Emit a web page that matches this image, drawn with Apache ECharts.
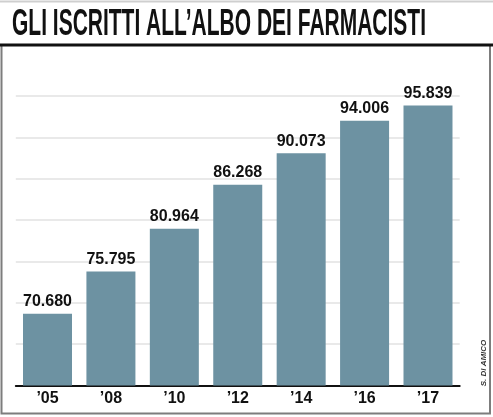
<!DOCTYPE html>
<html>
<head>
<meta charset="utf-8">
<script src="https://cdn.jsdelivr.net/npm/echarts@6/dist/echarts.min.js"></script>
<style>
html,body{margin:0;padding:0;background:#fff;}
#chart{width:493px;height:417px;}
</style>
</head>
<body>
<div id="chart"></div>
<script>
const titleText = 'GLI ISCRITTI ALL\u2019ALBO DEI FARMACISTI';
const creditText = 'S. DI AMICO';
const categories = ['\u201905', '\u201908', '\u201910', '\u201912', '\u201914', '\u201916', '\u201917'];
const iscritti = [70680, 75795, 80964, 86268, 90073, 94006, 95839];

function fmt(v) {
  return String(v).replace(/\B(?=(\d{3})+(?!\d))/g, '.');
}

const titleFont = 'bold 36px "Liberation Sans Narrow", "Liberation Sans", Arial, sans-serif';
const ctx = document.createElement('canvas').getContext('2d');
ctx.font = titleFont;
const titleW = ctx.measureText(titleText).width;
const titleScaleX = 414 / titleW;

const chart = echarts.init(document.getElementById('chart'), null, {renderer: 'canvas'});
chart.setOption({
  animation: false,
  backgroundColor: '#ffffff',
  grid: {left: 15.8, right: 33.3, top: 96, height: 289.5},
  xAxis: {
    type: 'category',
    data: categories,
    axisLine: {show: true, lineStyle: {color: '#111', width: 2}},
    axisTick: {show: false},
    axisLabel: {
      margin: 5,
      color: '#111',
      fontSize: 16,
      fontWeight: 'bold',
      fontFamily: '"Liberation Sans", Arial, sans-serif'
    }
  },
  yAxis: {
    type: 'value',
    min: 62000,
    max: 97000,
    interval: 5000,
    axisLine: {show: false},
    axisTick: {show: false},
    axisLabel: {show: false},
    splitLine: {show: true, lineStyle: {color: '#e2e2e2', width: 1.5}}
  },
  series: [{
    type: 'bar',
    data: iscritti,
    barWidth: 49,
    itemStyle: {color: '#6d92a2'},
    label: {
      show: true,
      position: 'top',
      distance: 4,
      color: '#111',
      fontSize: 16,
      fontWeight: 'bold',
      fontFamily: '"Liberation Sans", Arial, sans-serif',
      formatter: p => fmt(p.value)
    }
  }],
  graphic: [
    {type: 'line', shape: {x1: 0, y1: 1.5, x2: 493, y2: 1.5}, style: {stroke: '#cfcfcf', lineWidth: 2}},
    {type: 'rect', shape: {x: 1.5, y: 45, width: 488.5, height: 368.5}, style: {fill: null, stroke: '#7d7d7d', lineWidth: 2}},
    {type: 'line', shape: {x1: 0, y1: 45, x2: 493, y2: 45}, style: {stroke: '#111', lineWidth: 3}},
    {
      type: 'text', x: 12, y: 24.5, scaleX: titleScaleX, scaleY: 1.05,
      style: {text: titleText, font: titleFont, fill: '#111', textAlign: 'left', textVerticalAlign: 'middle'}
    },
    {
      type: 'text', x: 484, y: 363, rotation: Math.PI / 2,
      style: {text: creditText, font: 'italic bold 8px "Liberation Sans Narrow", "Liberation Sans", Arial, sans-serif', fill: '#333', textAlign: 'center', textVerticalAlign: 'middle'}
    }
  ]
});
</script>
</body>
</html>
